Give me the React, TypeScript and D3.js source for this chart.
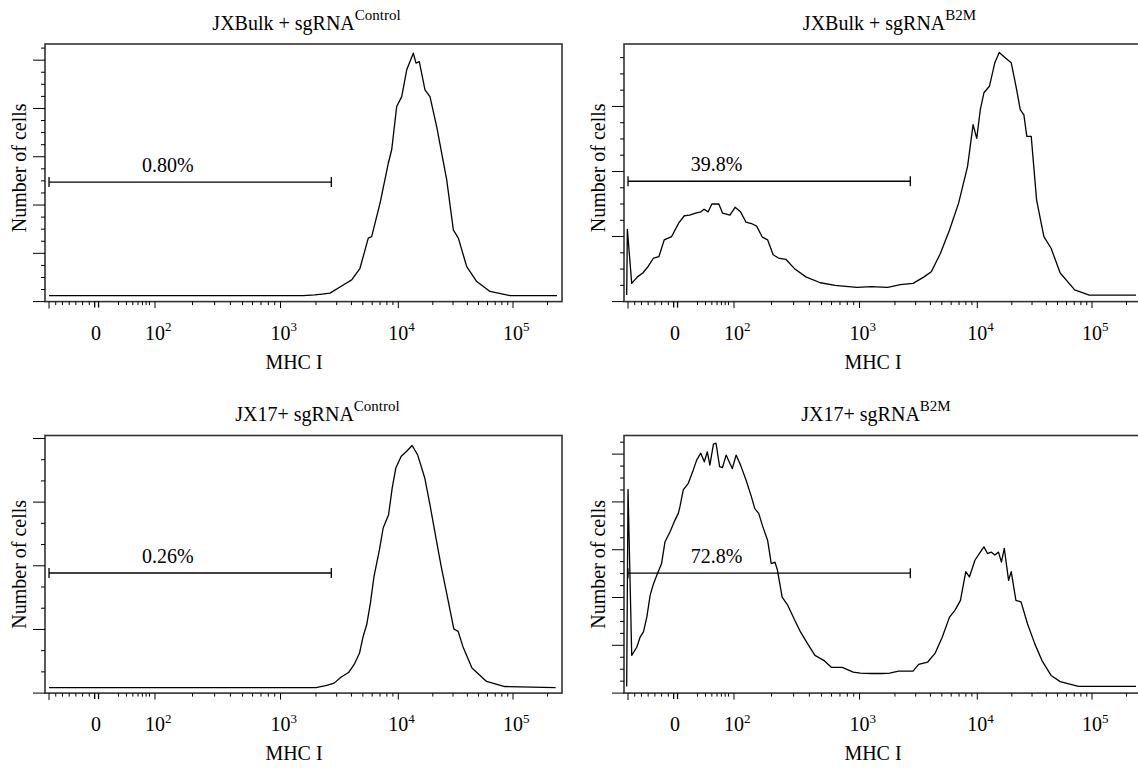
import React from 'react';
import * as d3 from 'd3';

// ---------- DATA (MHC I intensity, number of cells) ----------
const jxBulkControl: [number, number][] = [
  [-70, 0], [1550, 0], [1960, 3], [2250, 6], [2630, 10], [3410, 44], [4020, 65], [4730, 113],
  [5560, 238], [5940, 244], [7000, 383], [8220, 548], [8790, 604], [9690, 783], [10710, 824],
  [11840, 935], [13520, 1004], [14270, 963], [15240, 969], [17090, 852], [18890, 824],
  [21610, 700], [26430, 479], [30190, 272], [33370, 238], [39490, 120], [48280, 58],
  [63060, 17], [94250, 0], [242000, 0],
];

const jxBulkB2M: [number, number][] = [
  [-72, 0], [-71, 101], [-64.5, 18], [-56, 28], [-48, 34], [-40, 44], [-32, 57], [-24, 59],
  [-16, 85], [-5, 90], [3, 111], [7.5, 122], [12, 123], [18, 126], [24, 128], [28, 132],
  [34, 128], [40, 140], [54, 140], [63, 126], [85, 123], [102, 135], [113, 128], [125, 112],
  [138, 110], [152, 106], [169, 89], [186, 85], [206, 62], [227, 57], [260, 55], [307, 40],
  [375, 28], [489, 19], [640, 15], [953, 12], [1262, 13], [1735, 12], [2222, 16], [2850, 18],
  [3530, 28], [4070, 36], [4860, 64], [5810, 100], [6930, 141], [8270, 198], [9210, 262],
  [9890, 241], [10620, 285], [11420, 311], [12750, 321], [14210, 357], [15530, 373],
  [17690, 364], [19770, 357], [22030, 316], [23680, 285], [25480, 277], [27020, 244],
  [29520, 244], [32890, 146], [38070, 90], [43990, 72], [52810, 34], [70660, 8], [94600, 0],
  [242000, 0],
];

const jx17Control: [number, number][] = [
  [-70, 0], [2000, 0], [2470, 10], [2850, 21], [3280, 50], [3780, 71], [4210, 108], [4690, 163],
  [5030, 241], [5390, 296], [5800, 399], [6220, 524], [6920, 650], [7440, 752], [8270, 815],
  [8880, 941], [9530, 1035], [10600, 1090], [11830, 1114], [13190, 1141], [14720, 1098],
  [17010, 988], [18990, 854], [21170, 713], [23650, 571], [26360, 446], [30510, 276],
  [33250, 265], [36540, 194], [43880, 92], [58830, 29], [84600, 5], [235000, 0],
];

const jx17B2M: [number, number][] = [
  [-72, 0], [-70, 412], [-64.5, 65], [-57, 82], [-52, 103], [-47, 114], [-42, 145], [-37, 191],
  [-32, 215], [-27, 233], [-20, 257], [-15, 302], [-7.5, 323], [0, 348], [2.6, 362], [3.9, 376],
  [6.6, 411], [10.9, 425], [15.6, 453], [19.2, 474], [23.8, 488], [28.4, 470], [32.7, 491],
  [36.7, 463], [42.9, 507], [47.9, 509], [55.7, 460], [62.8, 458], [72.8, 484], [84.6, 467],
  [93.5, 456], [104, 484], [113, 463], [125, 432], [138, 397], [147, 372], [158, 362],
  [169, 337], [186, 306], [199, 257], [213, 260], [223, 243], [243, 187], [269, 170],
  [307, 138], [340, 114], [388, 89], [443, 65], [523, 54], [597, 40], [730, 40], [891, 30],
  [1020, 28], [1262, 27], [1562, 27], [1800, 28], [2150, 32], [2850, 32], [3175, 46],
  [3795, 51], [4376, 69], [5037, 103], [5810, 145], [6456, 159], [7193, 180], [7985, 240],
  [8570, 229], [9545, 264], [10620, 281], [11420, 292], [12280, 278], [13220, 281],
  [14210, 275], [15310, 281], [16230, 260], [17190, 289], [18740, 222], [19760, 240],
  [21710, 180], [24060, 177], [27390, 131], [31730, 89], [36620, 54], [43990, 23],
  [52810, 10], [76100, 0], [242000, 0],
];

// gate: [from, to] MHC I
const gateRange = [-70, 2700];

// x axis ticks
const xDecades = [100, 1000, 10000, 100000];
const xDecadeExp = ['2', '3', '4', '5'];
const xEdgeTick = [-70];
const xZeroTicks = [-2, 2];
const xNegMinor = [-60, -50, -40, -30, -20, -10];
const xLowMinor = [20, 30, 40, 50, 60, 70, 80];
const xLogMinor = [
  200, 300, 400, 500, 600, 700, 800, 900,
  2000, 3000, 4000, 5000, 6000, 7000, 8000, 9000,
  20000, 30000, 40000, 50000, 60000, 70000, 80000, 90000, 200000,
];

// axis calibration (biexponential display)
const xAnchorValues = [-76, 0, 100, 1000, 10000, 100000, 262144];
const xAnchorPos = [0, 51, 110, 235.5, 353.3, 468, 516];

const T = (v: number) => (v < 0 ? v / 20 : Math.asinh(v / 20));

interface PanelCfg {
  title: string;
  sup: string;
  pct: string;
  data: [number, number][];
  col: number;
  row: number;
  yMin: number;
  yTop: number;
  step: number;
  majorEvery: number;
  gate: number;
  labelAt: number;
  titleDx: number;
}

const panels: PanelCfg[] = [
  { title: 'JXBulk + sgRNA', sup: 'Control', pct: '0.80%', data: jxBulkControl, col: 0, row: 0,
    yMin: -25, yTop: 1042, step: 50, majorEvery: 4, gate: 470, labelAt: 127, titleDx: 261.5 },
  { title: 'JXBulk + sgRNA', sup: 'B2M', pct: '39.8%', data: jxBulkB2M, col: 1, row: 0,
    yMin: -10, yTop: 386, step: 25, majorEvery: 4, gate: 175, labelAt: 49, titleDx: 265.5 },
  { title: 'JX17+ sgRNA', sup: 'Control', pct: '0.26%', data: jx17Control, col: 0, row: 1,
    yMin: -26, yTop: 1188, step: 100, majorEvery: 3, gate: 540, labelAt: 127, titleDx: 272.5 },
  { title: 'JX17+ sgRNA', sup: 'B2M', pct: '72.8%', data: jx17B2M, col: 1, row: 1,
    yMin: -14, yTop: 525, step: 25, majorEvery: 4, gate: 237, labelAt: 49, titleDx: 252 },
];

const COLS = [45, 624];
const ROWS = [44, 435.5];
const PW = 517;
const PH = 257.6;
const FONT = "'Liberation Serif', 'Times New Roman', serif";

function Panel({ p, xPos }: { p: PanelCfg; xPos: (v: number) => number }) {
  const left = COLS[p.col];
  const top = ROWS[p.row];
  const bottom = top + PH;
  const y = d3.scaleLinear().domain([p.yMin, p.yTop]).range([bottom, top]);
  const line = d3
    .line<[number, number]>()
    .x((d) => left + xPos(d[0]))
    .y((d) => y(d[1]));
  const yTicks = d3
    .range(0, 200)
    .map((k) => ({ v: p.yMin + k * p.step, major: k % p.majorEvery === 0 }))
    .filter((t) => t.v <= p.yTop + 1e-6);

  const xt = (v: number) => left + xPos(v);
  const tick = (v: number, len: number, key: string, w = 1) => (
    <line key={key} x1={xt(v)} x2={xt(v)} y1={bottom} y2={bottom + len} stroke="#000" strokeWidth={w} />
  );

  const gy = y(p.gate);
  const gx0 = xt(gateRange[0]);
  const gx1 = xt(gateRange[1]);
  const midY = (top + bottom) / 2 - (p.row === 0 ? 5 : 0);

  return (
    <g>
      {/* frame */}
      <rect x={left} y={top} width={PW} height={PH} fill="none" stroke="#333" strokeWidth={1.6} />
      {/* y ticks */}
      {yTicks.map((t, i) => (
        <line key={'y' + i} x1={left - (t.major ? 12 : 4)} x2={left} y1={y(t.v)} y2={y(t.v)} stroke="#000" strokeWidth={1} />
      ))}
      {/* x ticks */}
      {xEdgeTick.map((v, i) => tick(v, 7, 'e' + i))}
      {xZeroTicks.map((v, i) => tick(v, 6, 'z' + i, 1.3))}
      {xNegMinor.map((v, i) => tick(v, 3.5, 'n' + i))}
      {xLowMinor.map((v, i) => tick(v, 3.5, 'l' + i))}
      {xLogMinor.map((v, i) => tick(v, 3.5, 'm' + i))}
      {xDecades.map((v, i) => tick(v, 6.5, 'd' + i))}
      {/* x tick labels */}
      <text x={xt(0)} y={bottom + 38.3} fontSize={20} textAnchor="middle">0</text>
      {xDecades.map((v, i) => (
        <g key={'dl' + i}>
          <text x={xt(v)} y={bottom + 38.3} fontSize={20} textAnchor="middle">10</text>
          <text x={xt(v) + 10} y={bottom + 29.5} fontSize={13} textAnchor="start">{xDecadeExp[i]}</text>
        </g>
      ))}
      {/* histogram */}
      <path d={line(p.data) || ''} fill="none" stroke="#000" strokeWidth={1.3} strokeLinejoin="round" />
      {/* gate */}
      <line x1={gx0} x2={gx1} y1={gy} y2={gy} stroke="#000" strokeWidth={1.3} />
      <line x1={gx0} x2={gx0} y1={gy - 5} y2={gy + 5} stroke="#000" strokeWidth={1.3} />
      <line x1={gx1} x2={gx1} y1={gy - 5} y2={gy + 5} stroke="#000" strokeWidth={1.3} />
      <text x={xt(p.labelAt)} y={gy - 10} fontSize={20} textAnchor="middle">{p.pct}</text>
      {/* titles */}
      <text x={left + p.titleDx} y={top - 14.5} fontSize={20} textAnchor="middle">
        {p.title}
        <tspan fontSize={15} dy={-10}>{p.sup}</tspan>
      </text>
      <text x={left + 249} y={bottom + 67} fontSize={20} textAnchor="middle">MHC I</text>
      <text transform={`translate(${left - 19},${midY}) rotate(-90)`} fontSize={20} textAnchor="middle">
        Number of cells
      </text>
    </g>
  );
}

export default function App() {
  const xs = d3.scaleLinear().domain(xAnchorValues.map(T)).range(xAnchorPos);
  const xPos = (v: number) => xs(T(v));
  return (
    <svg
      width={1138}
      height={769}
      style={{ position: 'absolute', left: 0, top: 0, background: '#fff' }}
      fontFamily={FONT}
    >
      <rect x={0} y={0} width={1138} height={769} fill="#fff" />
      {panels.map((p, i) => (
        <Panel key={i} p={p} xPos={xPos} />
      ))}
    </svg>
  );
}
